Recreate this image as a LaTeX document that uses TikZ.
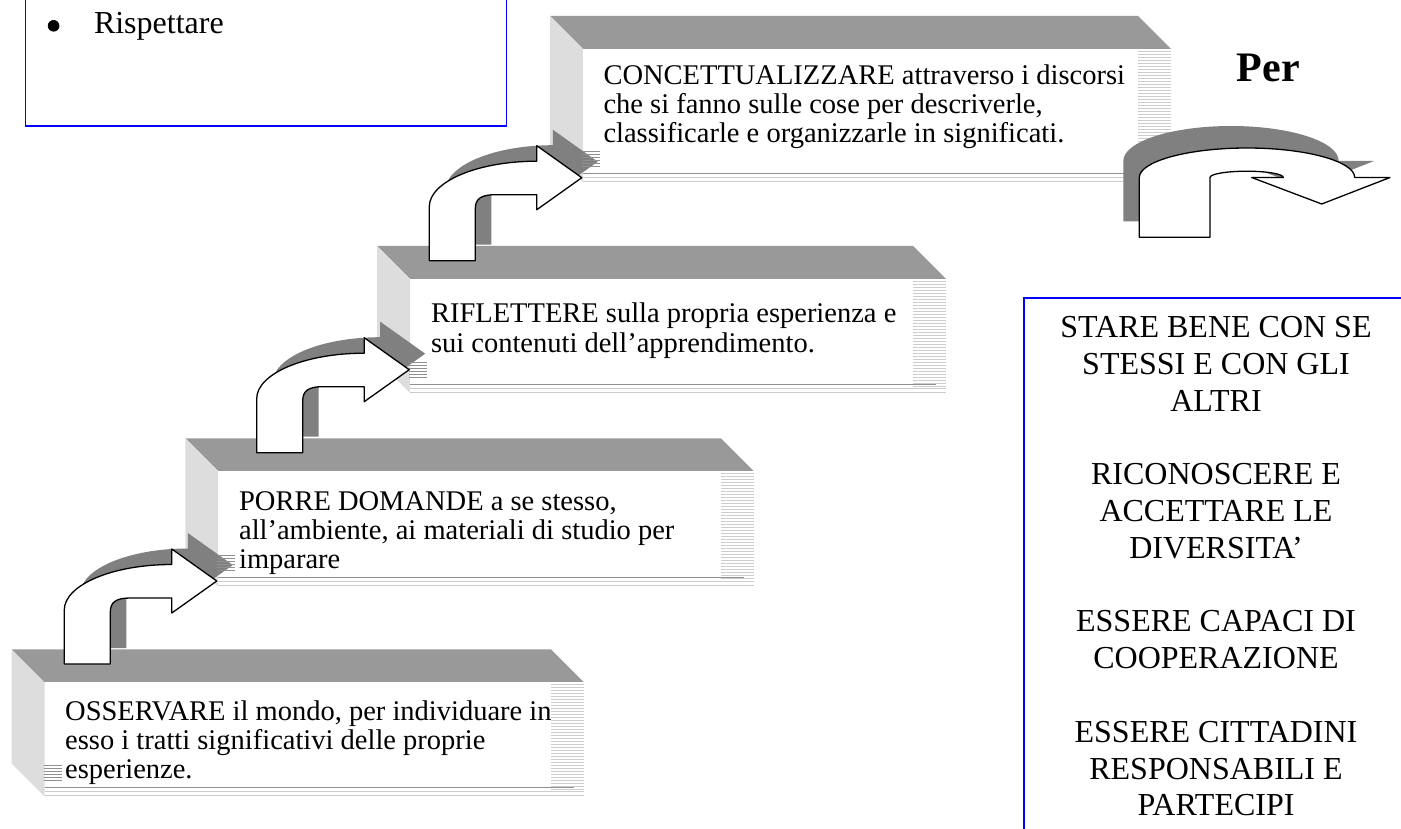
\documentclass[tikz,border=0pt]{standalone}
\usepackage{fontspec}
\setmainfont{Liberation Serif}
\definecolor{topface}{HTML}{999999}
\definecolor{sideface}{HTML}{DDDDDD}
\definecolor{shade}{HTML}{808080}
\definecolor{hatch}{HTML}{CCCCCC}
\definecolor{hatchdark}{HTML}{909090}
\definecolor{boxblue}{HTML}{0000FF}
\tikzset{
  blocktext/.style={inner sep=0pt, anchor=base west, font=\fontsize{28.5}{29}\selectfont},
  goaltext/.style={inner sep=0pt, anchor=base, font=\fontsize{32}{36.8}\selectfont},
  bluebox/.style={draw=boxblue, line width=1.5pt},
  arrowbody/.style={fill=white, draw=black, line width=1.3pt, line join=round},
  arrowshadow/.style={fill=shade}
}
\newcommand\stepblock[4]{%
  \fill[topface] (#1,#2) -- ({#1+#3},#2) -- ({#1+#3+33},{#2+33}) -- ({#1+33},{#2+33}) -- cycle;
  \fill[sideface] (#1,#2) -- ({#1+33},{#2+33}) -- ({#1+33},{#2+33+#4}) -- (#1,{#2+#4}) -- cycle;
  \fill[white] ({#1+33},{#2+33}) rectangle ({#1+#3+33},{#2+33+#4});
  \pgfmathtruncatemacro\nstrip{(#4-8)/3}%
  \foreach \hk in {0,...,\nstrip}{\draw[hatch, line width=0.6pt] ({#1+#3},{#2+35+3*\hk}) -- ({#1+#3+33},{#2+35+3*\hk});}
  \draw[hatchdark, line width=0.8pt] ({#1+33},{#2+33+#4-8.5}) -- ({#1+#3+23},{#2+33+#4-8.5});
  \draw[hatch, line width=0.8pt] ({#1+33},{#2+33+#4-4.5}) -- ({#1+#3+33},{#2+33+#4-4.5});
  \draw[hatch, line width=0.8pt] ({#1+33},{#2+33+#4-0.5}) -- ({#1+#3+33},{#2+33+#4-0.5});
}
\newcommand\lefthatch[3]{%
  \foreach \hk in {0,...,5}{\draw[hatchdark, line width=0.5pt] ({#1+32},{#2+33+#3-31+3*\hk}) -- ({#1+50},{#2+33+#3-31+3*\hk});}
}
\newcommand\bentarrow[3]{%
  \path[#1] (#2,#3) -- (#2,{#3-54}) .. controls (#2,{#3-79}) and ({#2+48},{#3-99.5}) .. ({#2+107.5},{#3-99.5})
    -- ({#2+107.5},{#3-115}) -- ({#2+152.5},{#3-83}) -- ({#2+107.5},{#3-51}) -- ({#2+107.5},{#3-66})
    -- ({#2+66},{#3-66}) .. controls ({#2+52},{#3-66}) and ({#2+46},{#3-62}) .. ({#2+46},{#3-52})
    -- ({#2+46},#3) -- cycle;
}
\begin{document}
\begin{tikzpicture}[x=1pt,y=-1pt]
\useasboundingbox (0,0) rectangle (1401,829);
\clip (0,0) rectangle (1401,829);

% blue frames
\draw[bluebox] (25.6,-20) rectangle (506.5,126);
\draw[bluebox] (1024,298) rectangle (1430,860);

% steps
\stepblock{11.5}{649.3}{539.5}{114}
\stepblock{185.3}{438.3}{535.7}{115}
\stepblock{377.2}{246}{535.8}{114}
\stepblock{550.2}{16}{588}{133.3}

% arrow shadows
\bentarrow{arrowshadow}{80.3}{648}
\bentarrow{arrowshadow}{272.7}{436.7}
\bentarrow{arrowshadow}{445.3}{244.7}

\lefthatch{11.5}{649.3}{114}
\lefthatch{185.3}{438.3}{115}
\lefthatch{377.2}{246}{114}
\lefthatch{550.2}{16}{133.3}

% arrows
\bentarrow{arrowbody}{64.3}{664}
\bentarrow{arrowbody}{256.7}{452.7}
\bentarrow{arrowbody}{429.3}{260.7}

% U-turn arrow
\path[arrowshadow] (1123.3,221.3) -- (1123.3,161) .. controls (1123.3,141.7) and (1171.5,126) .. (1231,126)
  .. controls (1290.5,126) and (1338.7,141.7) .. (1338.7,161) -- (1374,161) -- (1305.7,188) -- (1235.7,161)
  -- (1267.3,161) .. controls (1267.3,158) and (1251,155.2) .. (1230.7,155.2)
  .. controls (1210.4,155.2) and (1194,158) .. (1194,161) -- (1194,221.3) -- cycle;
\path[arrowbody] (1139.3,237.3) -- (1139.3,177.5) .. controls (1139.3,161.5) and (1187.5,148) .. (1247,148)
  .. controls (1306.5,148) and (1354.7,161.5) .. (1354.7,177.5) -- (1390,177.5) -- (1321.7,204) -- (1251.7,177.5)
  -- (1283.3,177.5) .. controls (1283.3,174) and (1267,171.2) .. (1246.7,171.2)
  .. controls (1226.4,171.2) and (1210,174) .. (1210,177.5) -- (1210,237.3) -- cycle;

% texts
\fill (53.6,25.8) circle (5.8);
\node[inner sep=0pt, anchor=base west, font=\fontsize{32}{36}\selectfont] (risp) at (93.8,33.3) {Rispettare};
\node[blocktext] (s1) at (65,720) {\begin{tabular}[t]{@{}l@{}}OSSERVARE il mondo, per individuare in\\esso i tratti significativi delle proprie\\esperienze.\end{tabular}};
\node[blocktext] (s2) at (238.9,510) {\begin{tabular}[t]{@{}l@{}}PORRE DOMANDE a se stesso,\\all’ambiente, ai materiali di studio per\\imparare\end{tabular}};
\node[blocktext] (s3) at (430.8,323) {\begin{tabular}[t]{@{}l@{}}RIFLETTERE sulla propria esperienza e\\sui contenuti dell’apprendimento.\end{tabular}};
\node[blocktext] (s4) at (603.3,85) {\begin{tabular}[t]{@{}l@{}}CONCETTUALIZZARE attraverso i discorsi\\che si fanno sulle cose per descriverle,\\classificarle e organizzarle in significati.\end{tabular}};
\node[inner sep=0pt, anchor=base west, font=\fontsize{42}{46}\selectfont\bfseries] (per) at (1236.7,81.7) {Per};
\node[goaltext] (goals) at (1216,337.5) {\begin{tabular}[t]{@{}c@{}}STARE BENE CON SE\\STESSI E CON GLI\\ALTRI\\ \\RICONOSCERE E\\ACCETTARE LE\\DIVERSITA’\\ \\ESSERE CAPACI DI\\COOPERAZIONE\\ \\ESSERE CITTADINI\\RESPONSABILI E\\PARTECIPI\end{tabular}};
\end{tikzpicture}
\end{document}
